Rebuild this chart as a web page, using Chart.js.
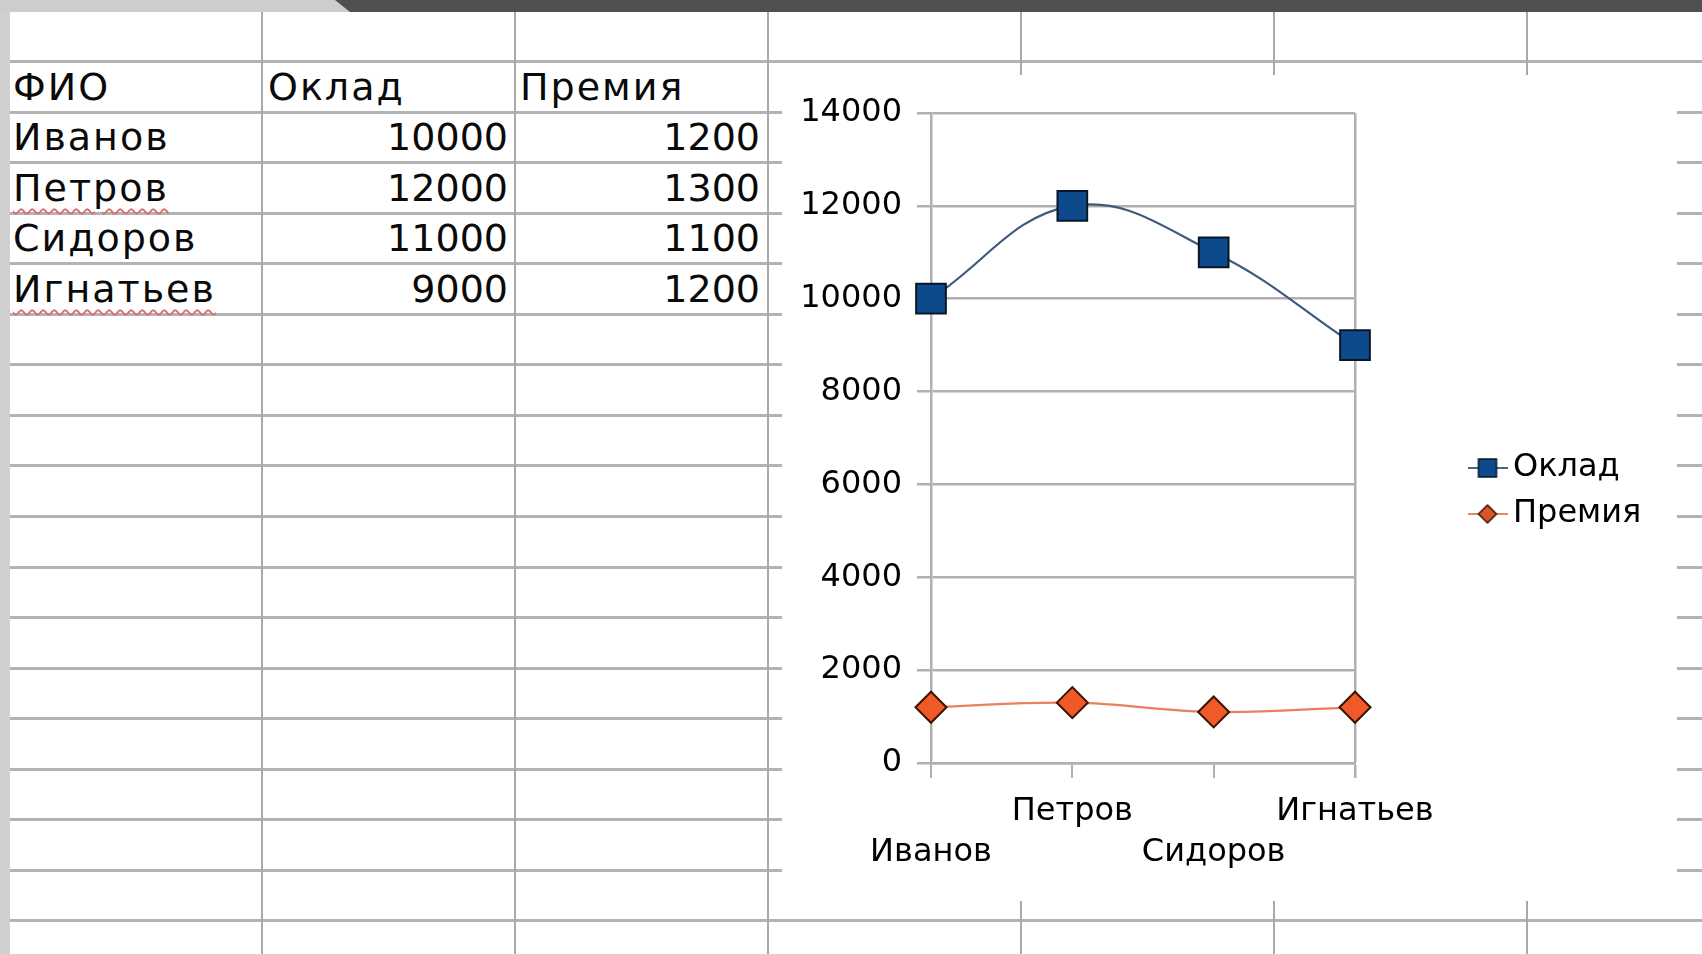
<!DOCTYPE html>
<html lang="ru">
<head>
<meta charset="utf-8">
<title>Оклад и премия</title>
<script src="https://cdn.jsdelivr.net/npm/chart.js@4.4.1/dist/chart.umd.min.js"></script>
<style>
  html, body { margin: 0; padding: 0; }
  body { width: 1702px; height: 954px; position: relative; overflow: hidden; background: #fff; font-family: "DejaVu Sans", sans-serif; }
  .topbar { position: absolute; left: 0; top: 0; width: 1702px; height: 12px; background: #cdcdcd; }
  .topbar .tab { position: absolute; inset: 0; background: #505050; clip-path: polygon(335px 0, 100% 0, 100% 100%, 350px 100%); }
  .strip { position: absolute; left: 0; top: 12px; width: 10px; height: 942px; background: #d0d0d0; }
  .hl { position: absolute; left: 10px; right: 0; height: 3px; background: #b3b3b3; }
  .vl { position: absolute; top: 12px; bottom: 0; width: 2px; background: #a9a9a9; }
  .cell { position: absolute; height: 50px; line-height: 50px; font-size: 38px; color: #0a0a0a; white-space: nowrap; letter-spacing: 2px; }
  .cell.num { text-align: right; letter-spacing: 0; }
  .err { text-decoration: underline wavy #d97070; text-decoration-thickness: 2px; text-underline-offset: 7px; }
  #chartBox { position: absolute; left: 782px; top: 75px; width: 895px; height: 826px; background: #fff; }
</style>
</head>
<body>
<div class="topbar"><div class="tab"></div></div>
<div class="strip"></div>
<div id="sheet"></div>
<div id="chartBox"><canvas id="salaryChart" width="895" height="826"></canvas></div>

<script>
const names = ['Иванов', 'Петров', 'Сидоров', 'Игнатьев'];
const oklad = [10000, 12000, 11000, 9000];
const premiya = [1200, 1300, 1100, 1200];
const headers = ['ФИО', 'Оклад', 'Премия'];
const misspelled = ['Петров', 'Игнатьев'];
const yMax = 14000, yStep = 2000;

const GRID = '#b0b0b0';
const FONT = '"DejaVu Sans", sans-serif';

// spreadsheet grid behind the chart
const sheet = document.getElementById('sheet');
const rowH = 50.55, firstLine = 61.5, colW = 253, firstCol = 262;
for (let i = 0; i < 18; i++) {
  const d = document.createElement('div'); d.className = 'hl';
  d.style.top = (firstLine + i * rowH - 1.5) + 'px'; sheet.appendChild(d);
}
for (let j = 0; j < 6; j++) {
  const d = document.createElement('div'); d.className = 'vl';
  d.style.left = (firstCol + j * colW - 1) + 'px'; sheet.appendChild(d);
}

function cell(text, row, left, width, num) {
  const d = document.createElement('div'); d.className = 'cell' + (num ? ' num' : '');
  d.style.top = (firstLine + row * rowH) + 'px'; d.style.left = left + 'px'; d.style.width = width + 'px';
  if (misspelled.includes(text)) d.innerHTML = `<span class="err">${text}</span>`; else d.textContent = text;
  sheet.appendChild(d);
}
cell(headers[0], 0, 13, 240); cell(headers[1], 0, 268, 240); cell(headers[2], 0, 520, 240);
names.forEach((n, i) => {
  cell(n, i + 1, 13, 245);
  cell(String(oklad[i]), i + 1, 262, 246, true);
  cell(String(premiya[i]), i + 1, 515, 245, true);
});

// legend icons: series line with its marker on top
function legendIcon(lineColor, drawMarker) {
  const c = document.createElement('canvas'); c.width = 40; c.height = 24;
  const g = c.getContext('2d');
  g.strokeStyle = lineColor; g.lineWidth = 2;
  g.beginPath(); g.moveTo(0, 12); g.lineTo(40, 12); g.stroke();
  drawMarker(g); return c;
}
const legendIcons = [
  legendIcon('#4a6484', g => { g.fillStyle = '#0d4a8c'; g.strokeStyle = '#0a1626'; g.lineWidth = 1.5; g.fillRect(11, 3, 18, 18); g.strokeRect(11, 3, 18, 18); }),
  legendIcon('#e58a66', g => {
    g.fillStyle = '#d8562a'; g.strokeStyle = '#3a1200'; g.lineWidth = 1.5;
    g.beginPath(); g.moveTo(20, 3); g.lineTo(29, 12); g.lineTo(20, 21); g.lineTo(11, 12); g.closePath(); g.fill(); g.stroke();
  })
];

// legend sits 109px right of the plot; pad the right side so its items start there
const legendFont = 32, legendPad = 14, iconW = 19;
const meas = document.createElement('canvas').getContext('2d');
meas.font = legendFont + 'px ' + FONT;
const textW = Math.max(...headers.slice(1).map(t => meas.measureText(t).width));
const legendW = legendPad + iconW + legendFont / 2 + textW + 10;
const plotRight = 573, gapW = 109;
const padRight = Math.max(0, 895 - (plotRight + gapW) - legendW);

Chart.defaults.font.family = FONT;
Chart.defaults.color = '#000';

new Chart(document.getElementById('salaryChart'), {
  type: 'line',
  data: {
    labels: names,
    datasets: [
      { label: headers[1], data: oklad, borderColor: '#3f5a7a', borderWidth: 2.2, tension: 0.4, clip: false,
        pointStyle: 'rect', pointRadius: 21, pointBackgroundColor: '#0d4a8c', pointBorderColor: '#0a1626', pointBorderWidth: 2 },
      { label: headers[2], data: premiya, borderColor: '#e8825c', borderWidth: 2.2, tension: 0.4, clip: false,
        pointStyle: 'rectRot', pointRadius: 15.5, pointBackgroundColor: '#f05a28', pointBorderColor: '#3a1200', pointBorderWidth: 2 }
    ]
  },
  options: {
    responsive: false, animation: false,
    layout: { padding: { left: 0, top: 38, bottom: 32, right: padRight } },
    plugins: {
      tooltip: { enabled: false },
      legend: {
        position: 'right',
        labels: {
          usePointStyle: true, pointStyleWidth: iconW, padding: legendPad, color: '#000',
          font: { size: legendFont },
          generateLabels(chart) {
            const items = Chart.defaults.plugins.legend.labels.generateLabels(chart);
            items.forEach((it, i) => { it.pointStyle = legendIcons[i]; });
            return items;
          }
        }
      }
    },
    scales: {
      x: {
        offset: false,
        grid: {
          // only the last category line is drawn: it closes the plot frame on the right
          color: c => c.index === names.length - 1 ? GRID : 'transparent',
          lineWidth: c => c.index === names.length - 1 ? 2.5 : 2,
          tickColor: GRID, tickLength: 15
        },
        border: { display: true, color: GRID, width: 2.5 },
        ticks: {
          padding: 13, maxRotation: 0, autoSkip: false, font: { size: 32, lineHeight: 41 / 32 },
          // alternate labels drop to a second line so they don't collide
          callback: (v, i) => i % 2 ? names[i] : ['', names[i]]
        },
        afterFit: s => { s.height = 106; }
      },
      y: {
        min: 0, max: yMax,
        grid: { color: GRID, lineWidth: 2.5, tickLength: 14 },
        border: { display: true, color: GRID, width: 2.5 },
        ticks: { stepSize: yStep, padding: 15, font: { size: 32 }, callback: v => String(v) },
        afterFit: s => { s.width = 149; }
      },
      gap: {
        type: 'linear', position: 'right', display: false,
        afterFit: s => { s.width = gapW; }
      }
    }
  }
});
</script>
</body>
</html>
